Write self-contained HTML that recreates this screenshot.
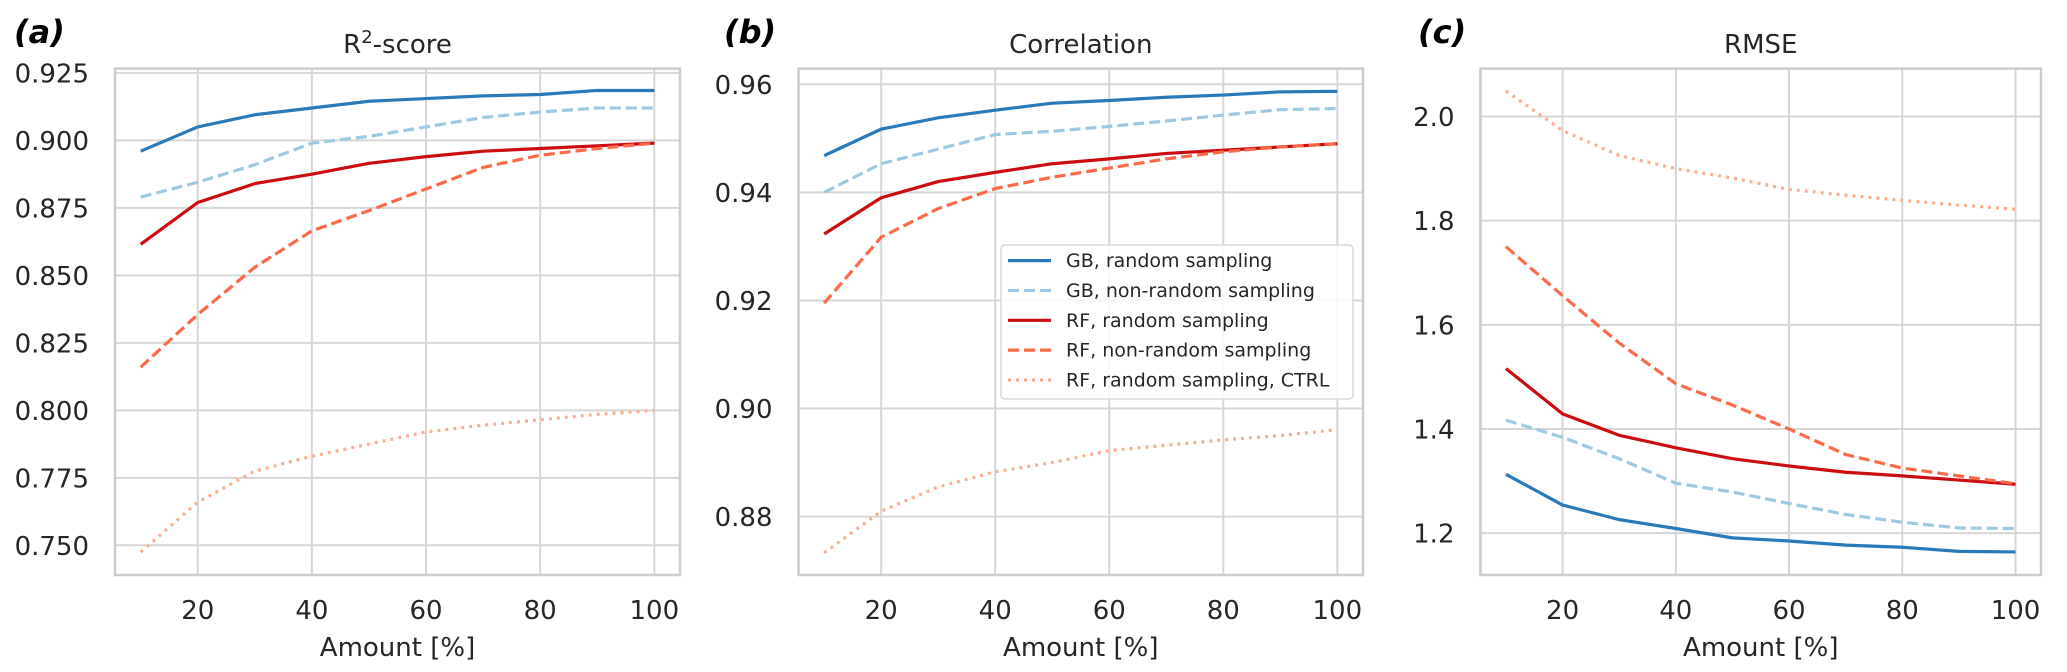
<!DOCTYPE html>
<html><head><meta charset="utf-8"><style>
html,body{margin:0;padding:0;background:#fff;}
svg{display:block;font-family:"DejaVu Sans","Liberation Sans",sans-serif;}
</style></head><body>
<svg id="fig" width="2067" height="672" viewBox="0 0 2067 672" xmlns="http://www.w3.org/2000/svg"></svg>
<script>
const xValues = [10,20,30,40,50,60,70,80,90,100];
const xTicks = [20,40,60,80,100];
const seriesNames = ["GB, random sampling","GB, non-random sampling","RF, random sampling","RF, non-random sampling","RF, random sampling, CTRL"];
const r2GBRandom = [0.896,0.905,0.9095,0.912,0.9145,0.9155,0.9165,0.917,0.9185,0.9185];
const r2GBNon = [0.879,0.8845,0.891,0.899,0.9015,0.905,0.9085,0.9105,0.912,0.912];
const r2RFRandom = [0.8615,0.877,0.884,0.8875,0.8915,0.894,0.896,0.897,0.898,0.899];
const r2RFNon = [0.816,0.8355,0.853,0.8665,0.874,0.882,0.890,0.8945,0.897,0.899];
const r2Ctrl = [0.7475,0.766,0.7775,0.783,0.7875,0.792,0.7945,0.7965,0.7985,0.800];
const r2Ticks = ["0.750","0.775","0.800","0.825","0.850","0.875","0.900","0.925"];
const corGBRandom = [0.9468,0.9517,0.9538,0.9552,0.9565,0.957,0.9576,0.958,0.9586,0.9587];
const corGBNon = [0.940,0.9453,0.948,0.9507,0.9513,0.9522,0.9532,0.9543,0.9553,0.9555];
const corRFRandom = [0.9323,0.939,0.942,0.9437,0.9453,0.9462,0.9472,0.9478,0.9484,0.949];
const corRFNon = [0.9195,0.9317,0.937,0.9407,0.9428,0.9445,0.9462,0.9475,0.9484,0.949];
const corCtrl = [0.8733,0.881,0.8855,0.8883,0.890,0.8922,0.8932,0.8942,0.895,0.8961];
const corTicks = ["0.88","0.90","0.92","0.94","0.96"];
const rmseGBRandom = [1.313,1.254,1.226,1.209,1.191,1.185,1.177,1.173,1.165,1.164];
const rmseGBNon = [1.417,1.384,1.343,1.296,1.279,1.257,1.236,1.221,1.21,1.209];
const rmseRFRandom = [1.516,1.429,1.388,1.364,1.343,1.329,1.317,1.31,1.302,1.294];
const rmseRFNon = [1.75,1.656,1.565,1.487,1.446,1.40,1.351,1.325,1.31,1.295];
const rmseCtrl = [2.049,1.973,1.925,1.90,1.882,1.86,1.849,1.839,1.830,1.822];
const rmseTicks = ["1.2","1.4","1.6","1.8","2.0"];

const NS = "http://www.w3.org/2000/svg";
const svg = document.getElementById('fig');
function el(tag, attrs, parent){ const e=document.createElementNS(NS,tag); for(const k in attrs) e.setAttribute(k,attrs[k]); (parent||svg).appendChild(e); return e; }
const styles = [
 {c:"#2a7ab9",d:""},{c:"#9ecae1",d:"11,5"},{c:"#cb0d12",d:""},{c:"#fb6a4a",d:"11,5"},{c:"#fcae91",d:"3,5"}];
const panels = [
 {key:"r2",letter:"(a)",lx:14,title:"R²-score",L:115,R:680,ylo:0.739,yhi:0.9266,ticks:r2Ticks,data:[r2GBRandom,r2GBNon,r2RFRandom,r2RFNon,r2Ctrl]},
 {key:"correlation",letter:"(b)",lx:724,title:"Correlation",L:798.5,R:1363,ylo:0.8692,yhi:0.9629,ticks:corTicks,data:[corGBRandom,corGBNon,corRFRandom,corRFNon,corCtrl]},
 {key:"rmse",letter:"(c)",lx:1418,title:"RMSE",L:1480.5,R:2041,ylo:1.1197,yhi:2.092,ticks:rmseTicks,data:[rmseGBRandom,rmseGBNon,rmseRFRandom,rmseRFNon,rmseCtrl]}
];
const T=68.6, B=575, XLO=5.5, XHI=104.5;
panels.forEach(p=>{
  const g = el('g',{});
  
  
  const sx = v => p.L + (v-XLO)/(XHI-XLO)*(p.R-p.L);
  const sy = v => B - (v-p.ylo)/(p.yhi-p.ylo)*(B-T);
  // grid
  xTicks.forEach(t=>{
    const l = el('line',{x1:sx(t),x2:sx(t),y1:T,y2:B,stroke:"#d6d6d6","stroke-width":2},g);
    
    
    const tx = el('text',{x:sx(t),y:619,"text-anchor":"middle","font-size":26,fill:"#262626"},g);
    tx.textContent=t;
    
    
  });
  p.ticks.forEach(t=>{
    const v=parseFloat(t);
    const l = el('line',{x1:p.L,x2:p.R,y1:sy(v),y2:sy(v),stroke:"#d6d6d6","stroke-width":2},g);
    
    
    const tx = el('text',{x:p.L-26,y:sy(v)+9.5,"text-anchor":"end","font-size":26,fill:"#262626"},g);
    tx.textContent=t;
    
    
  });
  const fr = el('rect',{x:p.L,y:T,width:p.R-p.L,height:B-T,fill:"none",stroke:"#cccccc","stroke-width":2.5},g);
  
  
  p.data.forEach((arr,i)=>{
    const pts = arr.map((v,j)=>sx(xValues[j])+","+sy(v)).join(" ");
    const pl = el('polyline',{points:pts,fill:"none",stroke:styles[i].c,"stroke-width":3.2,"stroke-dasharray":styles[i].d,"stroke-linejoin":"round"},g);
    
    
  });
  const ti = el('text',{x:(p.L+p.R)/2,y:53,"text-anchor":"middle","font-size":26,fill:"#262626"},g);
  if(p.key==="r2"){ ti.innerHTML='R<tspan dy="-10" font-size="18">2</tspan><tspan dy="10">-score</tspan>'; } else ti.textContent=p.title;
  
  
  const lt = el('text',{x:p.lx,y:43,"font-size":32,"font-weight":"bold","font-style":"italic",fill:"#000"},g);
  lt.textContent=p.letter;
  
  
  const xl = el('text',{x:(p.L+p.R)/2,y:656,"text-anchor":"middle","font-size":26,fill:"#262626"},g);
  xl.textContent="Amount [%]";
  
  
});
// legend in panel b
const lg = el('g',{});


const lr = el('rect',{x:1001,y:245,width:352,height:154,rx:4,fill:"#fff","fill-opacity":0.85,stroke:"#d9d9d9","stroke-width":1.5},lg);


seriesNames.forEach((n,i)=>{
  const y = 260.6 + i*29.85;
  const l = el('line',{x1:1008,x2:1051,y1:y,y2:y,stroke:styles[i].c,"stroke-width":3.2,"stroke-dasharray":styles[i].d},lg);
  
  
  const t = el('text',{x:1066,y:y+6.5,"font-size":19,fill:"#262626"},lg);
  t.textContent=n;
  
  
});
</script>
</body></html>
